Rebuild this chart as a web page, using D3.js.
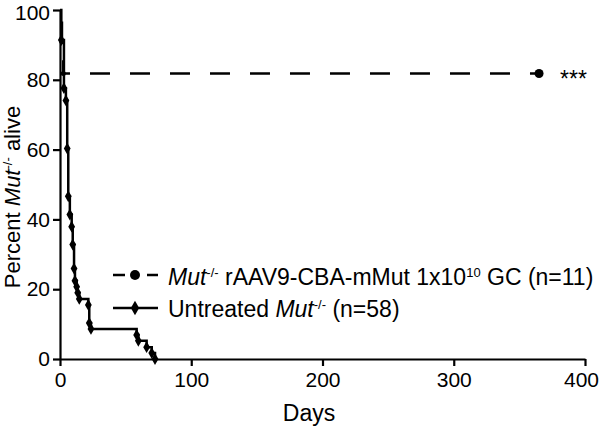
<!DOCTYPE html>
<html><head><meta charset="utf-8">
<script src="https://cdn.jsdelivr.net/npm/d3@7"></script>
<style>body{margin:0;background:#fff}svg{display:block}text{font-family:"Liberation Sans",Arial,sans-serif;fill:#000}</style>
</head><body>
<svg id="c" width="600" height="428"></svg>
<script>
const untreatedDays = [0, 1, 3, 4.5, 5.5, 6.3, 7.5, 8.9, 9.7, 10.7, 11.4, 12.7, 13.5, 14.7, 21.6, 22.3, 23.6, 58.4, 59.7, 66, 69.9, 72.4];
const untreatedPct  = [100, 91.4, 77.6, 74.1, 60.3, 46.6, 41.4, 37.9, 32.8, 25.9, 22.4, 20.7, 19.0, 17.2, 15.5, 10.3, 8.6, 6.9, 5.2, 3.4, 1.7, 0];
const treatedDays = [0, 1.5, 2.5, 365];
const treatedPct  = [100, 90.9, 81.8, 81.8];
const xTicks = [0, 100, 200, 300, 400];
const yTicks = [0, 20, 40, 60, 80, 100];

const svg = d3.select("#c");
const x = d3.scaleLinear().domain([0, 400]).range([60, 585]);
const y = d3.scaleLinear().domain([0, 100]).range([359, 10]);
const FONT = '"Liberation Sans",Arial,sans-serif';

const xAxis = svg.append("g").attr("transform", "translate(0,359)")
  .call(d3.axisBottom(x).tickValues(xTicks).tickSize(7).tickSizeOuter(0).tickPadding(6));
const yAxis = svg.append("g").attr("transform", "translate(60,0)")
  .call(d3.axisLeft(y).tickValues(yTicks).tickSize(7).tickSizeOuter(0).tickPadding(3));
[xAxis, yAxis].forEach(a => {
  a.selectAll("path.domain").attr("stroke", "#000").attr("stroke-width", 2.2);
  a.selectAll(".tick line").attr("stroke", "#000").attr("stroke-width", 2.2);
  a.selectAll(".tick text").style("font-family", FONT).style("font-size", "21px").attr("fill", "#000");
});
xAxis.selectAll(".tick text").filter(d => d === 400).attr("dx", -4);
yAxis.selectAll(".tick text").filter(d => d === 100).attr("dy", "0.44em");

const line = d3.line().x(d => x(d[0])).y(d => y(d[1])).curve(d3.curveStepAfter);
const untreated = untreatedDays.map((d, i) => [d, untreatedPct[i]]);
const treated = treatedDays.map((d, i) => [d, treatedPct[i]]);

svg.append("path").datum(untreated).attr("d", line).attr("fill", "none")
  .attr("stroke", "#000").attr("stroke-width", 2.5);
svg.append("path").datum(treated).attr("d", line).attr("fill", "none")
  .attr("stroke", "#000").attr("stroke-width", 2.5).attr("stroke-dasharray", "20,20").attr("stroke-dashoffset", 26.5);

const diamond = d3.symbol().type(d3.symbolDiamond).size(40);
svg.append("g").selectAll("path").data(untreated.slice(1)).join("path")
  .attr("d", diamond).attr("transform", d => `translate(${x(d[0])},${y(d[1])})`).attr("fill", "#000");
svg.append("g").selectAll("circle").data(treated.slice(1)).join("circle")
  .attr("cx", d => x(d[0])).attr("cy", d => y(d[1])).attr("r", d => d[0] > 100 ? 4.5 : 2.5).attr("fill", "#000");

svg.append("text").attr("x", 560).attr("y", 87).style("font-size", "23px").text("***");

const lg = svg.append("g");
lg.append("line").attr("x1", 113).attr("x2", 158).attr("y1", 275).attr("y2", 275)
  .attr("stroke", "#000").attr("stroke-width", 2.5).attr("stroke-dasharray", "12,22,11");
lg.append("circle").attr("cx", 135).attr("cy", 275).attr("r", 5).attr("fill", "#000");
lg.append("line").attr("x1", 113).attr("x2", 158).attr("y1", 308).attr("y2", 308)
  .attr("stroke", "#000").attr("stroke-width", 2.5);
lg.append("path").attr("d", d3.symbol().type(d3.symbolDiamond).size(60)).attr("transform", "translate(135,308)").attr("fill", "#000");

const t1 = lg.append("text").attr("x", 168).attr("y", 285).style("font-size", "23px");
t1.append("tspan").style("font-style", "italic").text("Mut");
t1.append("tspan").attr("dy", -8).style("font-size", "13px").text("-/-");
t1.append("tspan").attr("dy", 8).text(" rAAV9-CBA-mMut 1x10");
t1.append("tspan").attr("dy", -8).style("font-size", "13px").text("10");
t1.append("tspan").attr("dy", 8).text(" GC (n=11)");

const t2 = lg.append("text").attr("x", 168).attr("y", 317).style("font-size", "23px");
t2.append("tspan").text("Untreated ");
t2.append("tspan").style("font-style", "italic").text("Mut");
t2.append("tspan").attr("dy", -8).style("font-size", "13px").text("-/-");
t2.append("tspan").attr("dy", 8).text(" (n=58)");

svg.append("text").attr("x", 309).attr("y", 421).attr("text-anchor", "middle").style("font-size", "23px").text("Days");
const yl = svg.append("text").attr("transform", "translate(20,197) rotate(-90)").attr("text-anchor", "middle").style("font-size", "22px");
yl.append("tspan").text("Percent ");
yl.append("tspan").style("font-style", "italic").text("Mut");
yl.append("tspan").attr("dy", -8).style("font-size", "13px").text("-/-");
yl.append("tspan").attr("dy", 8).text(" alive");
</script>
</body></html>
